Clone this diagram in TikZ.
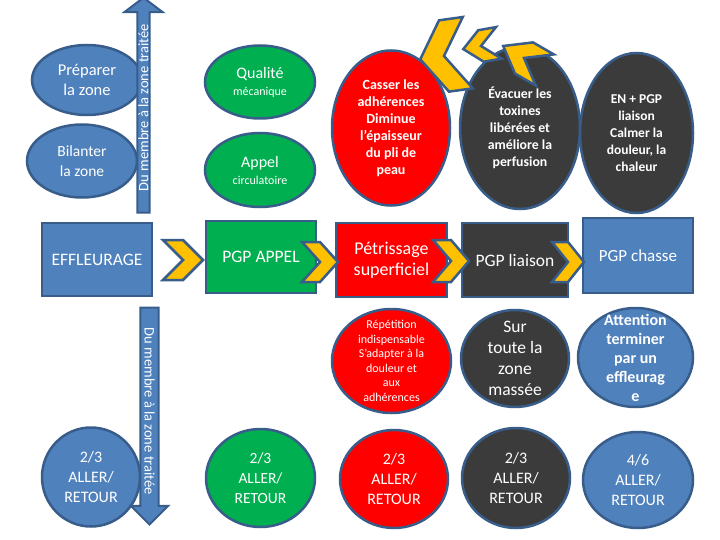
\documentclass[tikz,border=0pt]{standalone}
\usepackage{fontspec}
\setmainfont{Carlito}
\usetikzlibrary{shapes.geometric, shapes.arrows}

\definecolor{bleu}{HTML}{4F81BD}
\definecolor{bord}{HTML}{385D8A}
\definecolor{vert}{HTML}{00B050}
\definecolor{rouge}{HTML}{FF0000}
\definecolor{gris}{HTML}{3B3B3B}
\definecolor{jaune}{HTML}{FFC000}

\tikzset{
  oval/.style={ellipse, draw=bord, line width=2.5pt, inner sep=0pt},
  bloc/.style={rectangle, draw=bord, line width=2.5pt, text=white, align=center, inner sep=0pt},
  txt/.style={text=white, align=center},
  fleche/.style={single arrow, draw=bord, fill=bleu, line width=2pt, text=white,
    single arrow head indent=0pt},
  chev/.style={draw=bord, fill=jaune, line width=2.5pt},
  chevron/.pic={\draw[chev] (-20,-20) -- (0,-20) -- (20,0) -- (0,20) -- (-20,20) -- (0,0) -- cycle;}
}

\begin{document}
\begin{tikzpicture}[x=1pt, y=-1pt]
\useasboundingbox (0,0) rectangle (720,540);

% Colonne effleurage
\node[oval, fill=bleu, minimum width=110pt, minimum height=70pt,
  label={[txt, font=\fontsize{16.5}{20}\selectfont]center:{Préparer\\la zone}}] (prep) at (87,80) {};
\node[oval, fill=bleu, minimum width=110pt, minimum height=73pt,
  label={[txt, font=\fontsize{15.5}{20}\selectfont]center:{Bilanter\\la zone}}] (bilan) at (82,161) {};
\node[bloc, fill=bleu, minimum width=110pt, minimum height=73pt,
  font=\fontsize{17.5}{20}\selectfont] (effl) at (97,259.5) {EFFLEURAGE};
\node[oval, fill=bleu, minimum width=98pt, minimum height=99pt,
  label={[txt, font=\fontsize{16}{20}\selectfont]center:{2/3\\ALLER/\\RETOUR}}] (ar1) at (91,477) {};

% Fleches du membre a la zone
\node[fleche, rotate=90, minimum height=215pt, inner ysep=0pt, inner xsep=4pt,
  single arrow head extend=13pt, single arrow tip angle=106,
  font=\fontsize{14.5}{15}\selectfont] (haut) at (143.5,107.5) {Du membre à la zone traitée};
\node[fleche, rotate=-90, minimum height=217pt, inner ysep=3pt, inner xsep=4pt,
  single arrow head extend=9.5pt, single arrow tip angle=90,
  font=\fontsize{14.5}{15}\selectfont] (bas) at (149.5,411.5) {Du membre à la zone traitée};

% Colonne PGP appel
\node[oval, fill=vert, minimum width=110pt, minimum height=73pt,
  label={[txt, font=\fontsize{16}{17}\selectfont]center:{Qualité\\{\fontsize{12}{14}\selectfont mécanique}}}] (qual) at (260,82) {};
\node[oval, fill=vert, minimum width=110pt, minimum height=74pt,
  label={[txt, font=\fontsize{16}{17}\selectfont]center:{Appel\\{\fontsize{12}{14}\selectfont circulatoire}}}] (appel) at (260,170) {};
\node[bloc, fill=vert, minimum width=110pt, minimum height=72pt,
  font=\fontsize{17.5}{20}\selectfont] (pgpappel) at (261,257) {PGP APPEL};
\node[oval, fill=vert, minimum width=109pt, minimum height=98pt,
  label={[txt, font=\fontsize{15.5}{20}\selectfont]center:{2/3\\ALLER/\\RETOUR}}] (ar2) at (260.5,478) {};

% Colonne petrissage
\node[oval, fill=rouge, minimum width=118pt, minimum height=155pt,
  label={[txt, font=\bfseries\fontsize{14}{17}\selectfont]center:{Casser les\\adhérences\\Diminue\\l'épaisseur\\du pli de\\peau}}] (casser) at (391,128) {};
\node[bloc, fill=rouge, minimum width=111pt, minimum height=74pt,
  font=\fontsize{18}{21}\selectfont] (petri) at (391.5,260) {Pétrissage\\superficiel};
\node[oval, fill=rouge, minimum width=119pt, minimum height=104pt,
  label={[txt, font=\fontsize{12}{14.5}\selectfont]center:{Répétition\\indispensable\\S'adapter à la\\douleur et\\aux\\adhérences}}] (repet) at (391.5,361) {};
\node[oval, fill=rouge, minimum width=108pt, minimum height=98pt,
  label={[txt, font=\fontsize{16}{20}\selectfont]center:{2/3\\ALLER/\\RETOUR}}] (ar3) at (394,479) {};

% Colonne PGP liaison
\node[oval, fill=gris, minimum width=120pt, minimum height=162pt,
  label={[txt, font=\bfseries\fontsize{13.8}{17}\selectfont]center:{Évacuer les\\toxines\\libérées et\\améliore la\\perfusion}}] (evac) at (520,128) {};
\node[bloc, fill=gris, minimum width=106pt, minimum height=74pt,
  font=\fontsize{17.5}{20}\selectfont] (liaison) at (515,260) {PGP liaison};
\node[oval, fill=gris, minimum width=108pt, minimum height=97pt,
  label={[txt, font=\fontsize{17.5}{21}\selectfont]center:{Sur\\toute la\\zone\\massée}}] (sur) at (515,358.5) {};
\node[oval, fill=gris, minimum width=108pt, minimum height=100pt,
  label={[txt, font=\fontsize{16}{20}\selectfont]center:{2/3\\ALLER/\\RETOUR}}] (ar4) at (516,478) {};

% Colonne PGP chasse
\node[oval, fill=gris, minimum width=113pt, minimum height=160pt,
  label={[txt, font=\bfseries\fontsize{13.5}{17}\selectfont]center:{EN + PGP\\liaison\\Calmer la\\douleur, la\\chaleur}}] (calmer) at (636.5,133) {};
\node[bloc, fill=bleu, minimum width=110pt, minimum height=75pt,
  font=\fontsize{17}{20}\selectfont] (chasse) at (638,255.5) {PGP chasse};
\node[oval, fill=bleu, minimum width=115pt, minimum height=99pt,
  label={[txt, font=\bfseries\fontsize{16}{19}\selectfont]center:{Attention\\terminer\\par un\\effleurag\\e}}] (attention) at (635.5,357.5) {};
\node[oval, fill=bleu, minimum width=110pt, minimum height=96pt,
  label={[txt, font=\fontsize{16}{20}\selectfont]center:{4/6\\ALLER/\\RETOUR}}] (ar5) at (638,480) {};

% Chevrons entre les etapes
\pic at (183,260) {chevron};
\pic[xscale=0.9] at (320,262) {chevron};
\pic[xscale=0.9, yscale=1.05] at (451,261) {chevron};
\pic[xscale=0.8] at (568,262) {chevron};

% Chevrons du haut (retour)
\pic[rotate=150, xscale=1.2, yscale=0.9] at (524,58) {chevron};
\pic[rotate=190, xscale=0.9, yscale=0.8] at (481,46) {chevron};
\pic[rotate=188, xscale=1.2, yscale=1.8] at (444,56) {chevron};
\end{tikzpicture}
\end{document}
